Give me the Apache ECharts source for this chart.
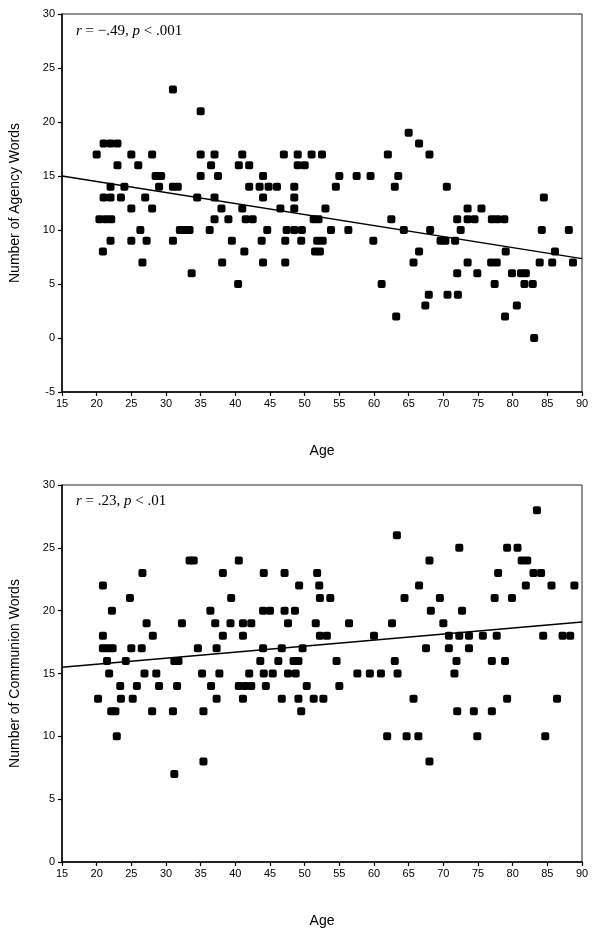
<!DOCTYPE html>
<html><head><meta charset="utf-8">
<script src="https://cdn.jsdelivr.net/npm/echarts@6/dist/echarts.min.js"></script>
<style>html,body{margin:0;padding:0;background:#fff}#c{width:600px;height:937px}</style>
</head><body><div id="c"></div>
<script>
// ---------- Agency (top) ----------
const agencyAges = [
 31,
 35,
 65,
 21,22,23,66.5,
 20,25,28,35,37,41,47,49,51,52.5,62,68,
 23,26,36.5,40.5,42,49,50,
 28.5,29.3,35,37.5,44,55,57.5,59.5,63.5,
 22,24,29,31,31.7,42,43.5,44.8,46,48.5,54.5,63,70.5,
 21,22,23.5,27,34.5,37,44,48.5,84.5,
 25,28,38,41,46.5,48.5,53,73.5,75.5,
 20.4,21.3,22.1,37,39,41.5,42.5,51.3,52,62.5,72,73.5,74.5,77,77.8,78.8,
 26.3,32,32.7,33.4,36.3,44.6,47.4,48.5,49.6,53.8,56.3,64.3,68.1,72.5,84.2,88.1,
 22,25,27.2,31,39.5,43.8,47.2,49.5,51.8,52.6,59.9,69.6,70.3,71.7,
 20.9,41.3,51.5,52.2,66.5,79,86.1,
 26.6,38.1,44,47.2,65.7,73.5,76.9,77.7,83.9,85.7,88.7,
 33.7,72,74.9,79.9,81.2,81.9,
 40.4,61.1,77.4,81.7,82.9,
 67.9,70.6,72.1,
 67.4,80.6,
 63.2,78.9,
 83.1
];
const agencyWords = [
 23,
 21,
 19,
 18,18,18,18,
 17,17,17,17,17,17,17,17,17,17,17,17,
 16,16,16,16,16,16,16,
 15,15,15,15,15,15,15,15,15,
 14,14,14,14,14,14,14,14,14,14,14,14,14,
 13,13,13,13,13,13,13,13,13,
 12,12,12,12,12,12,12,12,12,
 11,11,11,11,11,11,11,11,11,11,11,11,11,11,11,11,
 10,10,10,10,10,10,10,10,10,10,10,10,10,10,10,10,
 9,9,9,9,9,9,9,9,9,9,9,9,9,9,
 8,8,8,8,8,8,8,
 7,7,7,7,7,7,7,7,7,7,7,
 6,6,6,6,6,6,
 5,5,5,5,5,
 4,4,4,
 3,3,
 2,2,
 0
];
const agencyFitAges = [15, 90];
const agencyFitWords = [15.0, 7.35];

// ---------- Communion (bottom) ----------
const communionAges = [
 83.5,
 63.3,
 72.3,79.2,80.7,
 33.4,34.0,40.5,68,81.3,82.1,
 26.6,38.2,44.1,47.1,51.8,77.9,83,84.1,
 20.9,49.2,52.1,66.5,81.9,85.6,88.9,
 24.8,39.4,52.2,53.7,64.4,69.5,77.4,79.9,
 22.2,36.4,44,45,47.1,48.6,68.2,72.7,
 27.2,32.3,37.1,39.3,41.1,42.3,47.6,51.6,56.4,62.6,70,
 20.9,28.1,38.2,41.1,52.2,53.2,60,70.8,72.3,73.7,75.7,77.7,84.4,87.2,88.3,
 20.9,21.6,22.3,25,26.5,34.6,37.3,44,46.7,49.7,67.5,70.8,73.7,
 21.5,24.2,31.2,31.8,43.6,46.2,48.4,49.1,54.6,63,71.9,77,78.9,
 21.8,26.9,28.6,35.2,37.7,42,44.1,45.4,47.6,48.7,57.6,59.4,61,63.4,71.6,
 23.4,25.8,29,31.6,36.5,40.5,41.4,42.3,44.4,50.3,55,
 20.2,23.5,25.2,37.3,41.1,46.7,49.1,51.3,52.7,65.7,79.2,86.4,
 22.1,22.7,28,31,35.4,49.5,72,74.4,77,
 22.9,61.9,64.7,66.4,74.9,84.7,
 35.4,68,
 31.2
];
const communionWords = [
 28,
 26,
 25,25,25,
 24,24,24,24,24,24,
 23,23,23,23,23,23,23,23,
 22,22,22,22,22,22,22,
 21,21,21,21,21,21,21,21,
 20,20,20,20,20,20,20,20,
 19,19,19,19,19,19,19,19,19,19,19,
 18,18,18,18,18,18,18,18,18,18,18,18,18,18,18,
 17,17,17,17,17,17,17,17,17,17,17,17,17,
 16,16,16,16,16,16,16,16,16,16,16,16,16,
 15,15,15,15,15,15,15,15,15,15,15,15,15,15,15,
 14,14,14,14,14,14,14,14,14,14,14,
 13,13,13,13,13,13,13,13,13,13,13,13,
 12,12,12,12,12,12,12,12,12,
 10,10,10,10,10,10,
 8,8,
 7
];
const communionFitAges = [15, 90];
const communionFitWords = [15.5, 19.1];

const xTicks = {min: 15, max: 90, interval: 5};
const agencyY = {min: -5, max: 30, interval: 5};
const communionY = {min: 0, max: 30, interval: 5};

const zip = (a, b) => a.map((v, i) => [v, b[i]]);

const chart = echarts.init(document.getElementById('c'), null, {renderer: 'canvas'});
const axisFont = {fontFamily: 'Liberation Sans, Arial, sans-serif', fontSize: 11, color: '#000'};
const titleFont = {fontFamily: 'Liberation Sans, Arial, sans-serif', fontSize: 14, color: '#000'};

function xAxis(gi) {
  return {
    gridIndex: gi, type: 'value', min: xTicks.min, max: xTicks.max, interval: xTicks.interval,
    name: 'Age', nameLocation: 'middle', nameGap: 52, nameTextStyle: titleFont,
    axisLine: {show: true, onZero: false, lineStyle: {color: '#000', width: 1.5}},
    axisTick: {show: true, length: 4, lineStyle: {color: '#000', width: 1.2}},
    axisLabel: Object.assign({margin: 6}, axisFont),
    splitLine: {show: false}
  };
}
function yAxis(gi, cfg, name) {
  return {
    gridIndex: gi, type: 'value', min: cfg.min, max: cfg.max, interval: cfg.interval,
    name: name, nameLocation: 'middle', nameGap: 40, nameTextStyle: titleFont,
    axisLine: {show: true, onZero: false, lineStyle: {color: '#000', width: 1.5}},
    axisTick: {show: true, length: 4, lineStyle: {color: '#000', width: 1.2}},
    axisLabel: Object.assign({margin: 7}, axisFont),
    splitLine: {show: false}
  };
}
const markerStyle = {color: '#000', opacity: 1};

chart.setOption({
  animation: false,
  backgroundColor: '#fff',
  grid: [
    {left: 61, top: 14, width: 521, height: 378, show: true, borderColor: '#222', borderWidth: 1, backgroundColor: 'transparent'},
    {left: 61, top: 485, width: 521, height: 377, show: true, borderColor: '#222', borderWidth: 1, backgroundColor: 'transparent'}
  ],
  xAxis: [xAxis(0), xAxis(1)],
  yAxis: [yAxis(0, agencyY, 'Number of Agency Words'), yAxis(1, communionY, 'Number of Communion Words')],
  graphic: [
    {type: 'text', left: 76, top: 24, style: {
      text: '{i|r} = \u2212.49, {i|p} < .001',
      rich: {i: {fontStyle: 'italic', fontFamily: 'Liberation Serif, Times New Roman, serif', fontSize: 15, fill: '#000'}},
      font: '15px "Liberation Serif", "Times New Roman", serif', fill: '#000'}},
    {type: 'text', left: 76, top: 494, style: {
      text: '{i|r} = .23, {i|p} < .01',
      rich: {i: {fontStyle: 'italic', fontFamily: 'Liberation Serif, Times New Roman, serif', fontSize: 15, fill: '#000'}},
      font: '15px "Liberation Serif", "Times New Roman", serif', fill: '#000'}}
  ],
  series: [
    {type: 'scatter', xAxisIndex: 0, yAxisIndex: 0, symbol: 'roundRect', symbolSize: 8,
     itemStyle: markerStyle, data: zip(agencyAges, agencyWords)},
    {type: 'line', xAxisIndex: 0, yAxisIndex: 0, symbol: 'none', silent: true,
     lineStyle: {color: '#000', width: 1.5}, data: zip(agencyFitAges, agencyFitWords)},
    {type: 'scatter', xAxisIndex: 1, yAxisIndex: 1, symbol: 'roundRect', symbolSize: 8,
     itemStyle: markerStyle, data: zip(communionAges, communionWords)},
    {type: 'line', xAxisIndex: 1, yAxisIndex: 1, symbol: 'none', silent: true,
     lineStyle: {color: '#000', width: 1.5}, data: zip(communionFitAges, communionFitWords)}
  ]
});
</script>
</body></html>
